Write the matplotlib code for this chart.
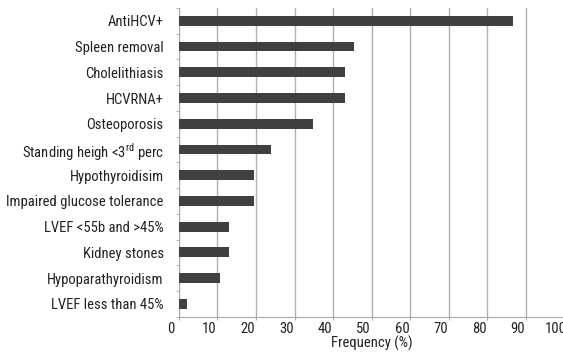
import matplotlib
matplotlib.use("Agg")
import matplotlib.pyplot as plt
import matplotlib.transforms as mtransforms
from matplotlib import font_manager

names = {f.name for f in font_manager.fontManager.ttflist}
fam = "Roboto"
for cand in ["Liberation Sans Narrow", "Roboto Condensed", "Arial Narrow", "Open Sans Condensed", "Roboto"]:
    if cand in names:
        fam = cand
        break
plt.rcParams['font.family'] = [fam, 'DejaVu Sans']
plt.rcParams['mathtext.fontset'] = 'custom'
plt.rcParams['mathtext.rm'] = fam

categories = ["AntiHCV+", "Spleen removal", "Cholelithiasis", "HCVRNA+", "Osteoporosis",
              r"Standing heigh <3$^{\rm rd}$ perc", "Hypothyroidisim",
              "Impaired glucose tolerance", "LVEF <55b and >45%", "Kidney stones",
              "Hypoparathyroidism", "LVEF less than 45%"]
values = [86.8, 45.4, 43.2, 43.2, 34.7, 23.8, 19.4, 19.4, 12.9, 12.9, 10.7, 2.1]
xticks = [0, 10, 20, 30, 40, 50, 60, 70, 80, 90, 100]

fig = plt.figure(figsize=(5.63, 3.52), dpi=100)

# pick a font size so that the longest label is about as wide as in the reference
probe = fig.text(0, 0, "Impaired glucose tolerance", fontsize=10)
fig.canvas.draw()
w = probe.get_window_extent().width
probe.remove()
fs = min(10.6, 10 * 156.0 / w)

ax = fig.add_axes([179/563, 1-316.7/352, (564-179)/563, (316.7-8)/352])
n = len(categories)
ypos = list(range(n))
ax.barh(ypos, values, height=0.38, color="#404040", zorder=3)
ax.set_ylim(n-0.5, -0.5)
ax.set_xlim(0, 100)
ax.set_xticks(xticks)
ax.set_xticklabels([str(v) for v in xticks], fontsize=fs, color="#222222")
ax.set_yticks(ypos)
ax.set_yticklabels(categories, fontsize=fs, color="#222222")
ax.set_yticks([i-0.5 for i in range(n+1)], minor=True)
ax.tick_params(axis='y', which='major', length=0, pad=11)
ax.tick_params(axis='y', which='minor', length=2.5, color="#aaaaaa", direction='out')
ax.tick_params(axis='x', length=2.5, color="#aaaaaa", pad=1)
ax.xaxis.grid(True, color="#b0b0b0", linewidth=1, zorder=0)
for s in ['top', 'right']:
    ax.spines[s].set_visible(False)
for s in ['left', 'bottom']:
    ax.spines[s].set_color("#aaaaaa")
ax.set_xlabel("Frequency (%)", fontsize=fs, color="#222222", labelpad=0)
off = mtransforms.ScaledTranslation(-8/100, 0, fig.dpi_scale_trans)
for lab in ax.get_xticklabels():
    lab.set_transform(lab.get_transform() + off)
fig.savefig("out.png", dpi=100, facecolor="white")
